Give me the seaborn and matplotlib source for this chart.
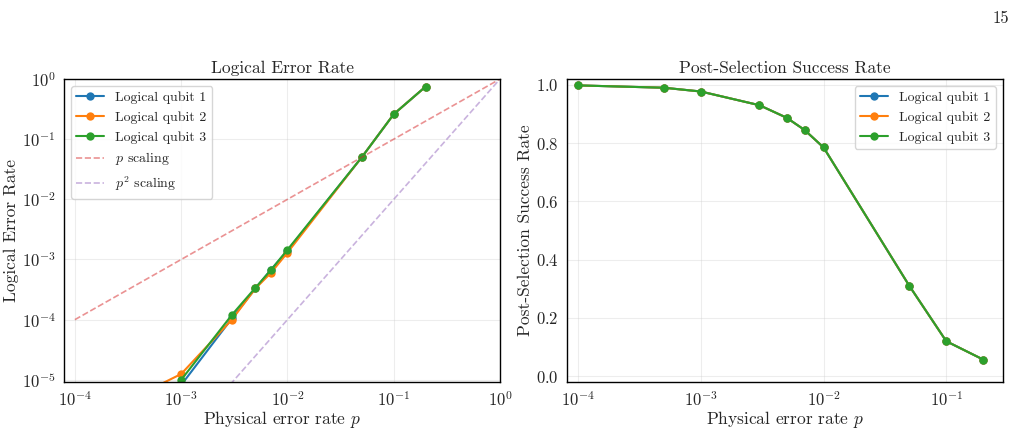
import numpy as np
import pandas as pd
import matplotlib
matplotlib.use("Agg")
import matplotlib.pyplot as plt
import seaborn as sns

# ---- data ----
p_values = [1e-4, 5e-4, 1e-3, 3e-3, 5e-3, 7e-3, 1e-2, 5e-2, 1e-1, 2e-1]
series_names = ["Logical qubit 1", "Logical qubit 2", "Logical qubit 3"]
ler_q1 = [1e-7, 5e-7, 8.2e-6, 1.05e-4, 3.3e-4, 6.8e-4, 1.40e-3, 5.0e-2, 0.26, 0.75]
ler_q2 = [1e-7, 6.8e-6, 1.25e-5, 1.0e-4, 3.3e-4, 6.0e-4, 1.30e-3, 5.0e-2, 0.26, 0.75]
ler_q3 = [1e-7, 1e-6, 1.0e-5, 1.2e-4, 3.4e-4, 6.7e-4, 1.45e-3, 5.0e-2, 0.26, 0.75]
psr_q1 = [0.998, 0.990, 0.977, 0.930, 0.887, 0.845, 0.785, 0.310, 0.120, 0.057]
psr_q2 = [0.998, 0.990, 0.977, 0.930, 0.887, 0.845, 0.785, 0.310, 0.120, 0.057]
psr_q3 = [0.998, 0.990, 0.977, 0.930, 0.887, 0.845, 0.785, 0.310, 0.120, 0.057]
scaling_p = [1e-4, 1e-3, 1e-2, 1e-1, 1e0]

sns.set_style("white")
plt.rcParams["font.family"] = ["serif"]
plt.rcParams["font.serif"] = ["cmr10", "DejaVu Serif"]
plt.rcParams["mathtext.fontset"] = "cm"
plt.rcParams["axes.formatter.use_mathtext"] = True
plt.rcParams["axes.unicode_minus"] = False

colors = sns.color_palette("tab10")[:3]

fig = plt.figure(figsize=(10.19, 4.30), dpi=100)
ax1 = fig.add_axes([0.0628, 0.1116, 0.4279, 0.7047])
ax2 = fig.add_axes([0.5564, 0.1116, 0.4279, 0.7047])

ler = [ler_q1, ler_q2, ler_q3]
psr = [psr_q1, psr_q2, psr_q3]

for ax in (ax1, ax2):
    for s in ax.spines.values():
        s.set_color("black")
        s.set_linewidth(1.0)

# left
for name, vals, c in zip(series_names, ler, colors):
    sns.lineplot(x=p_values, y=vals, ax=ax1, marker="o", color=c, label=name,
                 markersize=6, markeredgewidth=0, linewidth=1.5)
ax1.plot(scaling_p, scaling_p, "--", color="tab:red", alpha=0.5, linewidth=1.2, label="$p$ scaling")
ax1.plot(scaling_p, [v ** 2 for v in scaling_p], "--", color="tab:purple", alpha=0.5,
         linewidth=1.2, label="$p^2$ scaling")
ax1.set_xscale("log")
ax1.set_yscale("log")
ax1.set_xlim(7.9e-5, 1.0)
ax1.set_ylim(9.2e-6, 1.0)
ax1.grid(True, which="major", alpha=0.35)
ax1.set_xlabel("Physical error rate $p$", fontsize=12.5, labelpad=0)
ax1.set_ylabel("Logical Error Rate", fontsize=12.5, labelpad=2)
ax1.set_title("Logical Error Rate", fontsize=12.5, pad=4)
ax1.tick_params(axis="both", which="major", labelsize=12, direction="out", length=4, pad=2)
ax1.tick_params(axis="both", which="minor", direction="out", length=2)
ax1.legend(loc="upper left", fontsize=10, framealpha=0.8)

# right
for name, vals, c in zip(series_names, psr, colors):
    sns.lineplot(x=p_values, y=vals, ax=ax2, marker="o", color=c, label=name,
                 markersize=6, markeredgewidth=0, linewidth=1.5)
ax2.set_xscale("log")
ax2.set_xlim(8.1e-5, 0.29)
ax2.set_ylim(-0.02, 1.02)
ax2.set_yticks([0.0, 0.2, 0.4, 0.6, 0.8, 1.0])
ax2.grid(True, which="major", alpha=0.35)
ax2.set_xlabel("Physical error rate $p$", fontsize=12.5, labelpad=0)
ax2.set_ylabel("Post-Selection Success Rate", fontsize=12.5, labelpad=2)
ax2.set_title("Post-Selection Success Rate", fontsize=12.5, pad=4)
ax2.tick_params(axis="both", which="major", labelsize=12, direction="out", length=4, pad=2)
ax2.tick_params(axis="both", which="minor", direction="out", length=2)
ax2.legend(loc="upper right", fontsize=10, framealpha=0.8)

fig.text(0.99, 0.975, "15", ha="right", va="top", fontsize=12)

fig.savefig("out.png", dpi=100)
